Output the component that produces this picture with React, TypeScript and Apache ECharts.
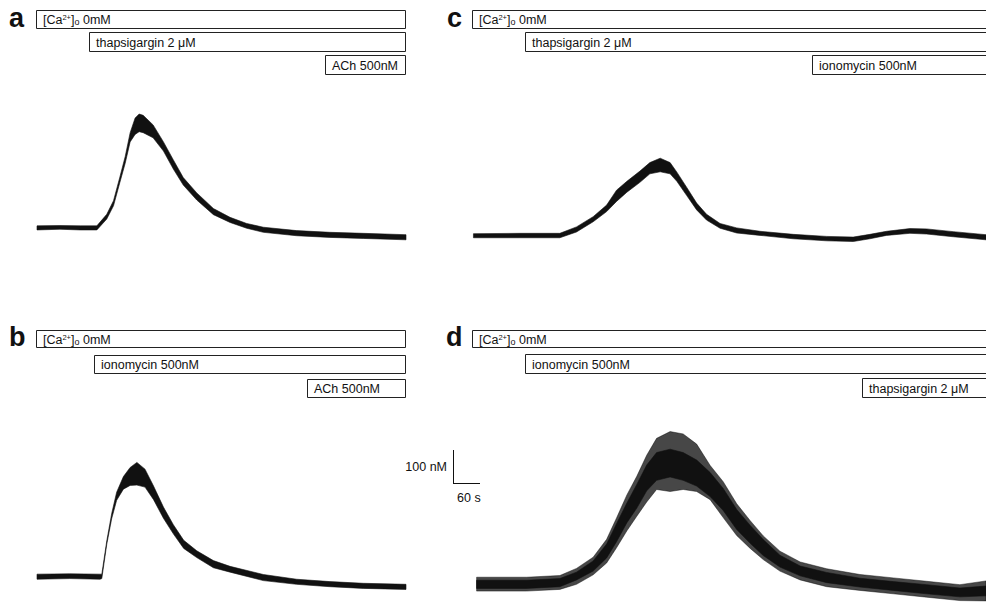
import React, { useEffect, useRef } from "react";
import * as echarts from "echarts";

// Panel a: Ca-free, thapsigargin 2 µM then ACh 500 nM (time in s, [Ca2+] in nM)
const aTime = [0, 51, 96, 133, 155, 170, 184, 196, 207, 218, 227, 236, 258, 281, 303, 325, 355, 392, 429, 466, 503, 577, 651, 725, 820];
const aHigh = [71, 72, 71, 71, 105, 145, 214, 275, 345, 388, 400, 396, 368, 318, 265, 213, 168, 122, 96, 78, 67, 57, 52, 49, 45];
const aLow = [59, 61, 59, 59, 91, 130, 198, 255, 318, 340, 348, 345, 330, 291, 238, 191, 147, 104, 81, 64, 52, 42, 37, 34, 30];

// Panel b: Ca-free, ionomycin 500 nM then ACh 500 nM
const bTime = [0, 73, 140, 144, 155, 166, 177, 192, 207, 222, 240, 259, 281, 303, 326, 355, 392, 429, 503, 577, 651, 725, 820];
const bHigh = [74, 75, 74, 74, 172, 253, 316, 362, 389, 404, 384, 334, 272, 220, 174, 143, 114, 97, 73, 59, 52, 47, 44];
const bLow = [59, 61, 59, 61, 162, 238, 292, 325, 336, 337, 331, 294, 239, 193, 150, 123, 93, 80, 55, 44, 37, 32, 29];

// Panel c: Ca-free, thapsigargin 2 µM then ionomycin 500 nM
const cTime = [1, 104, 193, 230, 267, 297, 319, 342, 371, 393, 416, 438, 453, 475, 497, 519, 549, 586, 638, 712, 786, 845, 882, 919, 971, 1008, 1067, 1140];
const cHigh = [48, 49, 49, 68, 98, 132, 176, 202, 232, 257, 270, 257, 229, 184, 138, 105, 78, 65, 55, 46, 40, 38, 46, 55, 63, 62, 54, 45];
const cLow = [36, 36, 36, 53, 83, 113, 143, 170, 199, 224, 230, 224, 202, 160, 118, 88, 64, 50, 43, 33, 27, 25, 33, 43, 49, 47, 39, 30];

// Panel d: Ca-free, ionomycin 500 nM then thapsigargin 2 µM
const dTime = [8, 119, 193, 230, 267, 297, 319, 342, 364, 386, 408, 438, 467, 497, 527, 556, 586, 616, 645, 682, 727, 786, 860, 934, 1008, 1082, 1140];
const dHigh = [56, 56, 61, 80, 113, 163, 223, 284, 339, 396, 433, 443, 433, 411, 374, 327, 265, 218, 176, 130, 98, 79, 62, 52, 43, 33, 39];
const dLow = [32, 32, 37, 57, 83, 122, 170, 226, 269, 320, 351, 361, 351, 334, 303, 262, 206, 165, 129, 95, 69, 49, 36, 26, 16, 7, 10];
const dSpikeHigh = [65, 65, 70, 91, 124, 177, 240, 308, 363, 425, 475, 495, 488, 458, 395, 347, 282, 232, 187, 142, 110, 90, 73, 63, 53, 43, 54];
const dSpikeLow = [24, 24, 29, 44, 72, 107, 152, 202, 245, 287, 324, 318, 324, 318, 294, 241, 188, 150, 117, 83, 57, 37, 26, 16, 6, -4, -5];

const panelLetters = ["a", "b", "c", "d"];
const aProtocol = ["[Ca{sup|2+}]{sub|o} 0mM", "thapsigargin 2 μM", "ACh 500nM"];
const bProtocol = ["[Ca{sup|2+}]{sub|o} 0mM", "ionomycin 500nM", "ACh 500nM"];
const cProtocol = ["[Ca{sup|2+}]{sub|o} 0mM", "thapsigargin 2 μM", "ionomycin 500nM"];
const dProtocol = ["[Ca{sup|2+}]{sub|o} 0mM", "ionomycin 500nM", "thapsigargin 2 μM"];
const scaleLabels = ["100 nM", "60 s"];

const FONT = "'Liberation Sans', Arial, Helvetica, sans-serif";

function band(gridIndex: number, t: number[], hi: number[], lo: number[], fill: string) {
  return {
    type: "custom",
    xAxisIndex: gridIndex,
    yAxisIndex: gridIndex,
    silent: true,
    data: [[t[0], hi[0]]],
    renderItem: (_params: any, api: any) => {
      const pts: number[][] = [];
      for (let i = 0; i < t.length; i++) pts.push(api.coord([t[i], hi[i]]));
      for (let i = t.length - 1; i >= 0; i--) pts.push(api.coord([t[i], lo[i]]));
      return {
        type: "polygon",
        shape: { points: pts },
        style: { fill, stroke: fill, lineWidth: 0.6 },
      };
    },
  };
}

function boxes(rects: number[][], labels: string[]) {
  const out: any[] = [];
  rects.forEach((r, i) => {
    out.push({
      type: "rect",
      shape: { x: r[0] + 0.5, y: r[1] + 0.5, width: r[2], height: r[3] },
      style: { fill: "#fff", stroke: "#222", lineWidth: 1 },
      z: 1,
    });
    out.push({
      type: "text",
      x: r[0] + 7,
      y: r[1] + r[3] / 2 + 1,
      z: 2,
      style: {
        text: labels[i],
        fill: "#111",
        font: `12.5px ${FONT}`,
        verticalAlign: "middle",
        rich: {
          sup: { fontSize: 7.5, fontFamily: FONT, lineHeight: 7, verticalAlign: "top", fill: "#111" },
          sub: { fontSize: 9, fontFamily: FONT, lineHeight: 9, verticalAlign: "bottom", fill: "#111" },
        },
      },
    });
  });
  return out;
}

function letter(ch: string, x: number, y: number) {
  return {
    type: "text",
    x,
    y,
    style: { text: ch, fill: "#111", font: `bold 27px ${FONT}`, verticalAlign: "middle" },
  };
}

export default function App() {
  const ref = useRef<HTMLDivElement>(null);
  useEffect(() => {
    document.body.style.margin = "0";
    const chart = echarts.init(ref.current!, null, { renderer: "svg" });
    const gridDefs = [
      { left: 37, top: 46, width: 369, max: 820 },
      { left: 37, top: 396, width: 369, max: 820 },
      { left: 473, top: 46, width: 513, max: 1140 },
      { left: 473, top: 396, width: 513, max: 1140 },
    ];
    const option: any = {
      animation: false,
      backgroundColor: "#fff",
      grid: gridDefs.map((g) => ({ left: g.left, top: g.top, width: g.width, height: 210.8, containLabel: false })),
      xAxis: gridDefs.map((g, i) => ({ type: "value", gridIndex: i, min: 0, max: g.max, show: false })),
      yAxis: gridDefs.map((_g, i) => ({ type: "value", gridIndex: i, min: -20, max: 600, show: false })),
      series: [
        band(0, aTime, aHigh, aLow, "#111"),
        band(1, bTime, bHigh, bLow, "#111"),
        band(2, cTime, cHigh, cLow, "#111"),
        band(3, dTime, dSpikeHigh, dSpikeLow, "rgba(0,0,0,0.72)"),
        band(3, dTime, dHigh, dLow, "#111"),
      ],
      graphic: [
        letter(panelLetters[0], 9, 18),
        letter(panelLetters[1], 9, 337),
        letter(panelLetters[2], 447, 18),
        letter(panelLetters[3], 446, 337),
        ...boxes([[36, 10, 369, 18], [89, 32, 316, 19], [325, 55, 80, 19]], aProtocol),
        ...boxes([[36, 330, 369, 17], [94, 355, 311, 18], [307, 379, 98, 18]], bProtocol),
        ...boxes([[472, 10, 530, 18], [525, 32, 470, 19], [812, 55, 180, 19]], cProtocol),
        ...boxes([[472, 330, 530, 17], [525, 354, 470, 19], [862, 378, 130, 19]], dProtocol),
        { type: "line", shape: { x1: 453.5, y1: 450, x2: 453.5, y2: 484 }, style: { stroke: "#111", lineWidth: 1 } },
        { type: "line", shape: { x1: 453, y1: 483.5, x2: 480, y2: 483.5 }, style: { stroke: "#111", lineWidth: 1 } },
        {
          type: "text",
          x: 447,
          y: 467,
          style: { text: scaleLabels[0], fill: "#111", font: `12.5px ${FONT}`, align: "right", verticalAlign: "middle" },
        },
        {
          type: "text",
          x: 457,
          y: 498,
          style: { text: scaleLabels[1], fill: "#111", font: `12.5px ${FONT}`, align: "left", verticalAlign: "middle" },
        },
      ],
    };
    chart.setOption(option);
    return () => chart.dispose();
  }, []);
  return <div ref={ref} style={{ position: "fixed", left: 0, top: 0, width: 986, height: 606 }} />;
}
